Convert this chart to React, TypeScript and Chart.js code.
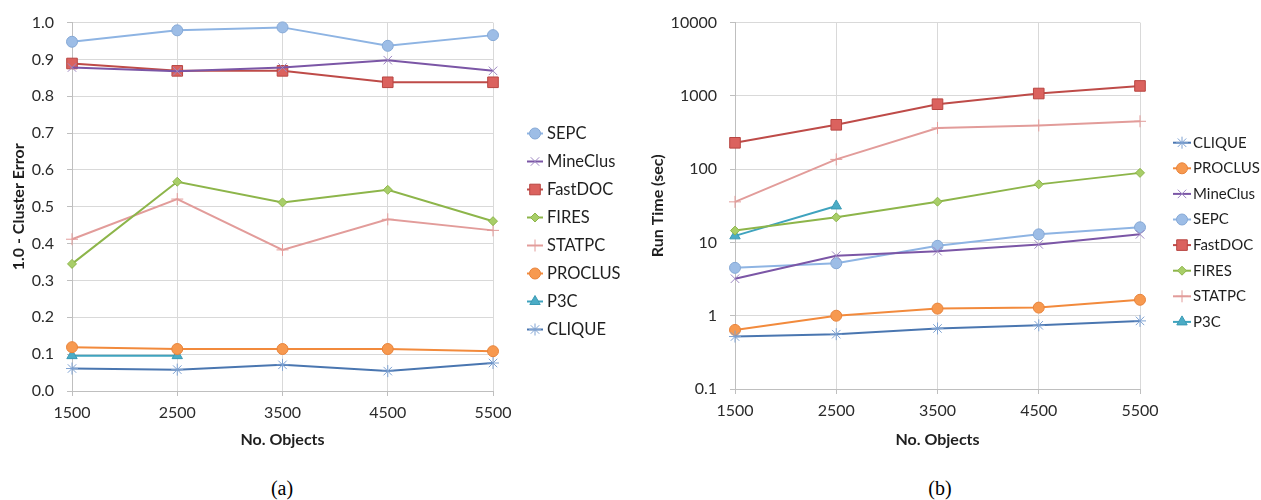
import React, { useEffect, useRef } from 'react';
import { Chart, registerables } from 'chart.js';
import { drawPoint } from 'chart.js/helpers';

Chart.register(...registerables);

// ---------- data ----------
const objects = ['1500', '2500', '3500', '4500', '5500'];

// (a) 1.0 - Cluster Error
const errSEPC = [0.948, 0.979, 0.987, 0.937, 0.966];
const errMineClus = [0.878, 0.868, 0.878, 0.898, 0.869];
const errFastDOC = [0.889, 0.869, 0.869, 0.838, 0.838];
const errFIRES = [0.345, 0.568, 0.512, 0.546, 0.461];
const errSTATPC = [0.412, 0.521, 0.383, 0.466, 0.436];
const errPROCLUS = [0.119, 0.114, 0.114, 0.114, 0.108];
const errP3C = [0.096, 0.096, null, null, null];
const errCLIQUE = [0.061, 0.058, 0.071, 0.054, 0.076];

// (b) Run Time (sec)
const timeCLIQUE = [0.52, 0.56, 0.67, 0.74, 0.85];
const timePROCLUS = [0.64, 1.0, 1.25, 1.29, 1.65];
const timeMineClus = [3.2, 6.6, 7.6, 9.4, 12.9];
const timeSEPC = [4.5, 5.2, 9.0, 12.9, 16.1];
const timeFastDOC = [229, 403, 770, 1077, 1367];
const timeFIRES = [14.5, 22, 36, 62, 89];
const timeSTATPC = [35.8, 136, 365, 395, 450];
const timeP3C = [12.3, 31.5, null, null, null];

const errTicks = [0, 0.1, 0.2, 0.3, 0.4, 0.5, 0.6, 0.7, 0.8, 0.9, 1.0];
const timeTicks = [0.1, 1, 10, 100, 1000, 10000];

// ---------- styles ----------
const FONT = 'Lato';
const GRID = '#D9D9D9';
const AXIS = '#BFBFBF';
const TEXT = '#2b2b2b';

type Sty = { line: string; fill: string; border: string; pointStyle: string; radius: number; pbw: number };
const STYLE: Record<string, Sty> = {
  SEPC: { line: '#8EB4E3', fill: '#9DBDE6', border: '#86A9D6', pointStyle: 'circle', radius: 5.5, pbw: 1 },
  MineClus: { line: '#7B56A6', fill: '#9D86C2', border: '#9D86C2', pointStyle: 'crossRot', radius: 6, pbw: 1 },
  FastDOC: { line: '#BE4B48', fill: '#DB625E', border: '#B84642', pointStyle: 'rect', radius: 7.5, pbw: 1 },
  FIRES: { line: '#8DB54A', fill: '#A8CE68', border: '#8DB54A', pointStyle: 'rectRot', radius: 4.5, pbw: 1 },
  STATPC: { line: '#E29C9A', fill: '#E29C9A', border: '#E29C9A', pointStyle: 'cross', radius: 6, pbw: 1 },
  PROCLUS: { line: '#F28A3C', fill: '#F7994F', border: '#E8843C', pointStyle: 'circle', radius: 5.5, pbw: 1 },
  P3C: { line: '#3FA3BE', fill: '#4BACC6', border: '#3A9AB4', pointStyle: 'triangle', radius: 6, pbw: 1 },
  CLIQUE: { line: '#4A76B0', fill: '#7EA2D2', border: '#7EA2D2', pointStyle: 'star', radius: 6, pbw: 1 },
};

function ds(name: string, data: (number | null)[]) {
  const s = STYLE[name];
  return {
    label: name,
    data,
    borderColor: s.line,
    backgroundColor: s.fill,
    pointBackgroundColor: s.fill,
    pointBorderColor: s.border,
    pointStyle: s.pointStyle,
    pointRadius: s.radius,
    pointHoverRadius: s.radius,
    pointBorderWidth: s.pbw,
    borderWidth: 2,
    tension: 0,
    spanGaps: false,
    clip: false,
  };
}

const sideLegend = {
  id: 'sideLegend',
  afterDraw(chart: any, _args: any, opts: any) {
    const ctx = chart.ctx;
    ctx.save();
    chart.data.datasets.forEach((d: any, i: number) => {
      const y = opts.y0 + i * opts.step;
      const x = opts.x;
      ctx.strokeStyle = d.borderColor;
      ctx.lineWidth = 2;
      ctx.beginPath();
      ctx.moveTo(x, y);
      ctx.lineTo(x + opts.lineLen, y);
      ctx.stroke();
      ctx.fillStyle = d.pointBackgroundColor;
      ctx.strokeStyle = d.pointBorderColor;
      ctx.lineWidth = d.pointBorderWidth;
      drawPoint(ctx, { pointStyle: d.pointStyle, radius: d.pointRadius, rotation: 0, borderWidth: d.pointBorderWidth } as any, x + opts.lineLen / 2, y);
      ctx.fillStyle = '#1f1f1f';
      ctx.font = `${opts.size}px ${FONT}`;
      ctx.textBaseline = 'middle';
      ctx.textAlign = 'left';
      ctx.fillText(d.label, x + opts.lineLen + opts.gap, y);
    });
    ctx.restore();
  },
};

function makeOptions(cfg: {
  yType: 'linear' | 'logarithmic';
  yTitle: string;
  yWidth: number;
  yTitlePad: number;
  padRight: number;
  xHeight: number;
  ticks: number[];
  fmt: (v: number) => string;
  legend: any;
}) {
  return {
    responsive: false,
    animation: false as const,
    events: [],
    layout: { padding: { left: 0, right: cfg.padRight, top: 18, bottom: 0 } },
    plugins: {
      legend: { display: false },
      tooltip: { enabled: false },
      sideLegend: cfg.legend,
    },
    scales: {
      x: {
        type: 'category',
        offset: false,
        afterFit: (s: any) => {
          s.height = cfg.xHeight;
        },
        grid: { color: GRID, tickColor: AXIS, tickLength: 5, drawTicks: true },
        border: { color: AXIS },
        ticks: { font: { family: FONT, size: 16 }, color: TEXT, padding: 7, maxRotation: 0, autoSkip: false },
        title: {
          display: true,
          text: 'No. Objects',
          font: { family: FONT, size: 16, weight: 'bold' },
          color: '#1f1f1f',
          padding: { top: 0, bottom: 0 },
        },
      },
      y: {
        type: cfg.yType,
        min: cfg.ticks[0],
        max: cfg.ticks[cfg.ticks.length - 1],
        afterFit: (s: any) => {
          s.width = cfg.yWidth;
        },
        afterBuildTicks: (s: any) => {
          s.ticks = cfg.ticks.map((v) => ({ value: v }));
        },
        grid: { color: GRID, tickColor: AXIS, tickLength: 5, drawTicks: true },
        border: { color: AXIS },
        ticks: {
          font: { family: FONT, size: 16 },
          color: TEXT,
          padding: 13,
          callback: (v: any) => cfg.fmt(Number(v)),
        },
        title: {
          display: true,
          text: cfg.yTitle,
          font: { family: FONT, size: 16, weight: 'bold' },
          color: '#1f1f1f',
          padding: { top: cfg.yTitlePad, bottom: 0 },
        },
      },
    },
  };
}

function ChartCanvas({ config, width, height }: { config: any; width: number; height: number }) {
  const ref = useRef<HTMLCanvasElement | null>(null);
  useEffect(() => {
    if (!ref.current) return;
    const chart = new Chart(ref.current, config);
    return () => chart.destroy();
  }, []);
  return <canvas ref={ref} width={width} height={height} style={{ width, height, display: 'block' }} />;
}

export default function App() {
  const leftConfig = {
    type: 'line',
    data: {
      labels: objects,
      datasets: [
        ds('SEPC', errSEPC),
        ds('MineClus', errMineClus),
        ds('FastDOC', errFastDOC),
        ds('FIRES', errFIRES),
        ds('STATPC', errSTATPC),
        ds('PROCLUS', errPROCLUS),
        ds('P3C', errP3C),
        ds('CLIQUE', errCLIQUE),
      ],
    },
    options: makeOptions({
      yType: 'linear',
      yTitle: '1.0 - Cluster Error',
      yWidth: 72,
      yTitlePad: 9,
      padRight: 147,
      xHeight: 58,
      ticks: errTicks,
      fmt: (v) => v.toFixed(1),
      legend: { x: 527, y0: 133.5, step: 28, lineLen: 16, gap: 4, size: 16.5 },
    }),
    plugins: [sideLegend],
  };

  const rightConfig = {
    type: 'line',
    data: {
      labels: objects,
      datasets: [
        ds('CLIQUE', timeCLIQUE),
        ds('PROCLUS', timePROCLUS),
        ds('MineClus', timeMineClus),
        ds('SEPC', timeSEPC),
        ds('FastDOC', timeFastDOC),
        ds('FIRES', timeFIRES),
        ds('STATPC', timeSTATPC),
        ds('P3C', timeP3C),
      ],
    },
    options: makeOptions({
      yType: 'logarithmic',
      yTitle: 'Run Time (sec)',
      yWidth: 95,
      yTitlePad: 8,
      padRight: 121,
      xHeight: 60,
      ticks: timeTicks,
      fmt: (v) => String(v),
      legend: { x: 533, y0: 142.7, step: 25.6, lineLen: 18, gap: 2, size: 15 },
    }),
    plugins: [sideLegend],
  };

  const caption: React.CSSProperties = {
    position: 'absolute',
    top: 476,
    width: 80,
    textAlign: 'center',
    fontFamily: '"Liberation Serif", "Times New Roman", serif',
    fontSize: 20,
    lineHeight: '24px',
    color: '#000',
  };

  return (
    <div style={{ position: 'absolute', left: 0, top: 0, width: 1261, height: 500, background: '#fff', overflow: 'hidden' }}>
      <div style={{ position: 'absolute', left: 0, top: 0 }}>
        <ChartCanvas config={leftConfig} width={640} height={449} />
      </div>
      <div style={{ position: 'absolute', left: 640, top: 0 }}>
        <ChartCanvas config={rightConfig} width={621} height={449} />
      </div>
      <div style={{ ...caption, left: 282 - 40 }}>(a)</div>
      <div style={{ ...caption, left: 940 - 40 }}>(b)</div>
    </div>
  );
}
